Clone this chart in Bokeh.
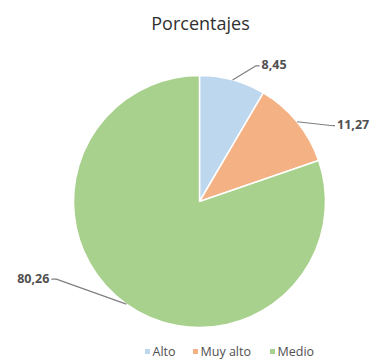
import numpy as np
from bokeh.plotting import figure
from bokeh.models import Range1d
from bokeh.core.properties import value
from bokeh.embed import file_html
from bokeh.resources import INLINE

# Data
categories = ["Alto", "Muy alto", "Medio"]
values = [8.45, 11.27, 80.26]
labels = ["8,45", "11,27", "80,26"]
colors = ["#BDD7EE", "#F4B183", "#A9D18E"]
title = "Porcentajes"

W, H = 374, 359
p = figure(width=W, height=H, output_backend="svg", toolbar_location=None,
           x_range=Range1d(0, W), y_range=Range1d(0, H), min_border=0)
p.axis.visible = False
p.grid.visible = False
p.outline_line_color = None
p.background_fill_color = "white"

cx, cy, r = 199, H - 201, 126
font = value("Open Sans")
txt_color = "#505050"

total = sum(values)
fr = np.array(values) / total
ends = np.pi / 2 - 2 * np.pi * np.cumsum(fr)
starts = np.concatenate([[np.pi / 2], ends[:-1]])

# wedges (drawn clockwise: start > end)
p.wedge(x=cx, y=cy, radius=r, start_angle=ends, end_angle=starts,
        fill_color=colors, line_color="white", line_width=1.5)

# labels with leader lines
mids = (starts + ends) / 2
# label offsets (layout): (dx elbow, dy elbow, horizontal run, align)
offs = [(23, 14, 4, "left"), (36, -4, 2, "left"), (-70, 25, -5, "right")]
for m, lab, (dx, dy, run, al) in zip(mids, labels, offs):
    ex, ey = cx + r * np.cos(m), cy + r * np.sin(m)
    bx, by = ex + dx, ey + dy
    tx = bx + run
    p.line(x=[ex, bx, tx], y=[ey, by, by], line_color="#7f7f7f", line_width=1.2)
    p.text(x=[tx + (2 if al == "left" else -2)], y=[by + 1], text=[lab],
           text_font=font, text_font_size="12.5px", text_font_style="bold",
           text_color=txt_color, text_align=al, text_baseline="middle")

# title
p.text(x=[200], y=[H - 22], text=[title], text_font=font,
       text_font_size="18px", text_color="#303030", text_align="center",
       text_baseline="middle")

# legend
lx = [147, 195, 272]
ly = 8
p.scatter(x=lx, y=[ly] * 3, marker="square", size=5, fill_color=colors,
          line_color=None)
p.text(x=[x + 5 for x in lx], y=[ly] * 3, text=categories, text_font=font,
       text_font_size="12.5px", text_color=txt_color, text_align="left",
       text_baseline="middle")

open("out.html", "w").write(file_html(p, INLINE))
